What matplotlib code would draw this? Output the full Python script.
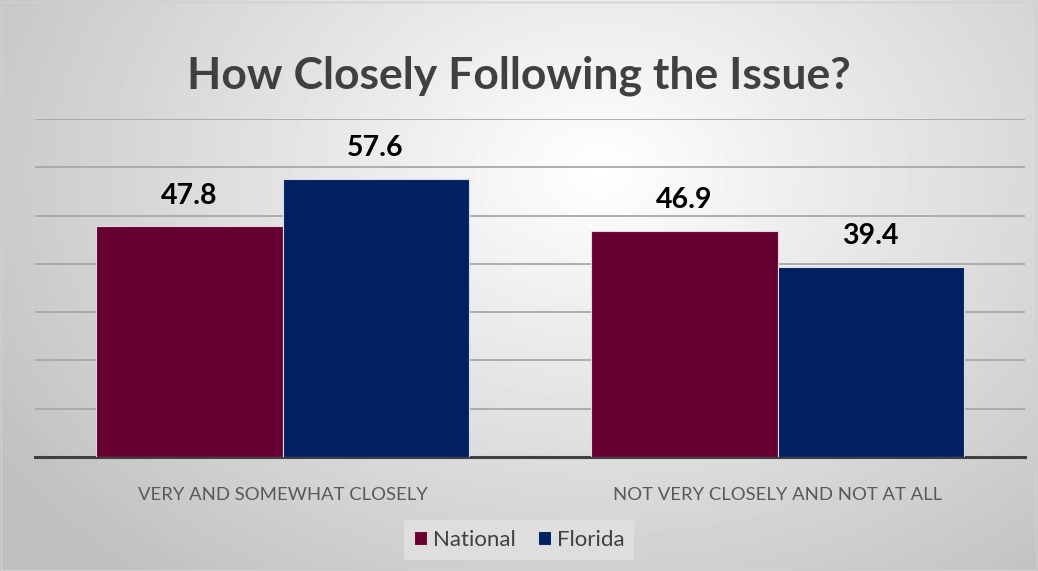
import numpy as np
import matplotlib
matplotlib.use("Agg")
import matplotlib.pyplot as plt
from matplotlib.patches import Rectangle

categories = ["VERY AND SOMEWHAT CLOSELY", "NOT VERY CLOSELY AND NOT AT ALL"]
national = [47.8, 46.9]
florida = [57.6, 39.4]
series_names = ["National", "Florida"]
series_colors = ["#660033", "#002060"]

plt.rcParams['font.family'] = ['Lato', 'DejaVu Sans']

fig = plt.figure(figsize=(10.38, 5.71), dpi=100)

# radial gradient background
bg = fig.add_axes([0, 0, 1, 1], zorder=-10)
yy, xx = np.mgrid[0:571, 0:1038]
d = np.sqrt(((xx - 600) / 700.0) ** 2 + ((yy - 170) / 520.0) ** 2)
shade = np.clip(1.0 - 0.24 * d, 0.75, 1.0)
bg.imshow(shade, cmap='gray', vmin=0, vmax=1, aspect='auto', extent=[0, 1, 0, 1])
bg.add_patch(Rectangle((0.001, 0.002), 0.997, 0.995, transform=bg.transAxes,
                       fill=False, edgecolor='#d0d0d0', lw=1))
bg.set_xlim(0, 1)
bg.set_ylim(0, 1)
bg.axis('off')

ax = fig.add_axes([35 / 1038, 114 / 571, 990 / 1038, 338 / 571])
ax.patch.set_alpha(0)

x = np.arange(len(categories))
w = 0.376
b1 = ax.bar(x - w / 2, national, w, color=series_colors[0], edgecolor='#e0d8dc',
            lw=0.8, label=series_names[0], zorder=3)
b2 = ax.bar(x + w / 2, florida, w, color=series_colors[1], edgecolor='#d8dce4',
            lw=0.8, label=series_names[1], zorder=3)

for bars in (b1, b2):
    for r in bars:
        ax.text(r.get_x() + r.get_width() / 2, r.get_height() + 3.6,
                '%.1f' % r.get_height(), ha='center', va='bottom',
                fontsize=20.5, fontweight='bold', color='black')

ax.set_xlim(-0.5, 1.5)
ax.set_ylim(0, 70)
ax.set_yticks(np.arange(10, 71, 10))
ax.yaxis.grid(True, color='#a8a8a8', lw=1.3, zorder=0)
ax.tick_params(axis='y', left=False, labelleft=False)
ax.tick_params(axis='x', bottom=False, pad=18)
ax.set_xticks(x)
ax.set_xticklabels(categories, fontsize=13.3, color='#595959')
for s in ['top', 'right', 'left']:
    ax.spines[s].set_visible(False)
ax.spines['bottom'].set_color('#404040')
ax.spines['bottom'].set_linewidth(2.2)

fig.text(0.5, 0.868, "How Closely Following the Issue?", ha='center', va='center',
         fontsize=32, fontweight='bold', color='#404040')

leg = fig.legend(loc='center', bbox_to_anchor=(0.5, 0.054), ncol=2, frameon=True,
                 fontsize=16, handlelength=0.6, handleheight=0.6, handletextpad=0.25,
                 columnspacing=1.0, borderpad=0.45, fancybox=False)
leg.get_frame().set_facecolor('#e2e2e2')
leg.get_frame().set_edgecolor('none')
for t in leg.get_texts():
    t.set_color('#404040')

fig.savefig('out.png', dpi=100)
